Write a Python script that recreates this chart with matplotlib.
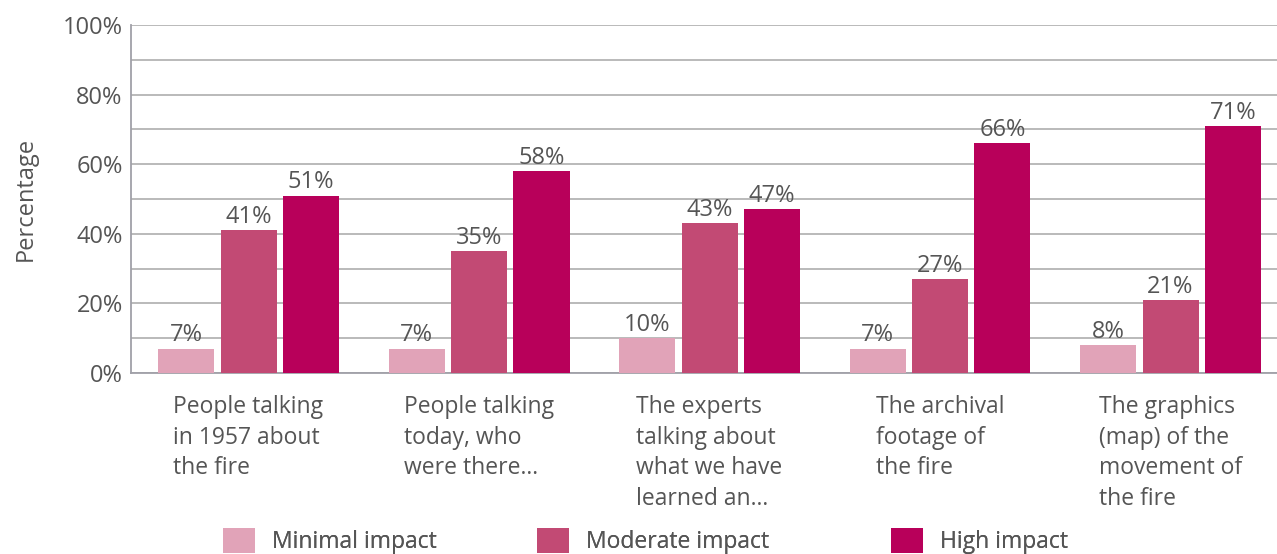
import matplotlib
matplotlib.use('Agg')
import matplotlib.pyplot as plt
import numpy as np

CATEGORIES = ['People talking\nin 1957 about\nthe fire',
              'People talking\ntoday, who\nwere there...',
              'The experts\ntalking about\nwhat we have\nlearned an...',
              'The archival\nfootage of\nthe fire',
              'The graphics\n(map) of the\nmovement of\nthe fire']
SERIES = ['Minimal impact', 'Moderate impact', 'High impact']
MINIMAL = [7, 7, 10, 7, 8]
MODERATE = [41, 35, 43, 27, 21]
HIGH = [51, 58, 47, 66, 71]
COLORS = ['#E1A3B8', '#C24A74', '#B8005A']
TXT = '#555555'

plt.rcParams['font.family'] = ['Open Sans', 'DejaVu Sans']

fig = plt.figure(figsize=(12.77, 5.54), dpi=100)
ax = fig.add_axes([131 / 1277, 1 - 373 / 554, 1 - 131 / 1277, 348 / 554])

x = np.arange(len(CATEGORIES))
w = 0.243
off = 0.271
for k, (vals, col, name) in enumerate(zip([MINIMAL, MODERATE, HIGH], COLORS, SERIES)):
    bars = ax.bar(x + (k - 1) * off, vals, width=w, color=col, label=name, zorder=3)
    for b, v in zip(bars, vals):
        ax.text(b.get_x() + b.get_width() / 2, v + 0.4, f'{v}%', ha='center', va='bottom',
                fontsize=17, color=TXT, zorder=4)

ax.set_xlim(-0.51, 4.462)
ax.set_ylim(0, 100)
ax.set_yticks(np.arange(0, 101, 20))
ax.set_yticks(np.arange(0, 101, 10), minor=True)
ax.set_yticklabels([f'{t}%' for t in range(0, 101, 20)], fontsize=17, color=TXT)
ax.grid(True, axis='y', which='both', color='#b4b4b4', lw=1.3, zorder=0)
ax.tick_params(axis='y', which='both', length=0, pad=6)
ax.tick_params(axis='x', length=0, pad=16)
ax.set_xticks(x)
ax.set_xticklabels(CATEGORIES, fontsize=16.5, color=TXT, linespacing=1.36, va='top', ha='center',
                   multialignment='left')
for s in ['top', 'right']:
    ax.spines[s].set_visible(False)
ax.spines['left'].set_color('#a0a0a8')
ax.spines['bottom'].set_color('#a0a0a8')
ax.spines['left'].set_linewidth(1.3)
ax.spines['bottom'].set_linewidth(1.3)
ax.set_ylabel('Percentage', fontsize=17, color=TXT, labelpad=18)

# one legend entry per item, placed where the reference puts each
handles, labels = ax.get_legend_handles_labels()
for h, l, xpix in zip(handles, labels, [202, 516, 870]):
    fig.add_artist(fig.legend([h], [l], loc='center left', bbox_to_anchor=(xpix / 1277, 1 - 541 / 554),
                              frameon=False, fontsize=16.5, labelcolor=TXT, handlelength=1.4,
                              handleheight=1.3, handletextpad=0.75))

fig.savefig('out.png', dpi=100)
